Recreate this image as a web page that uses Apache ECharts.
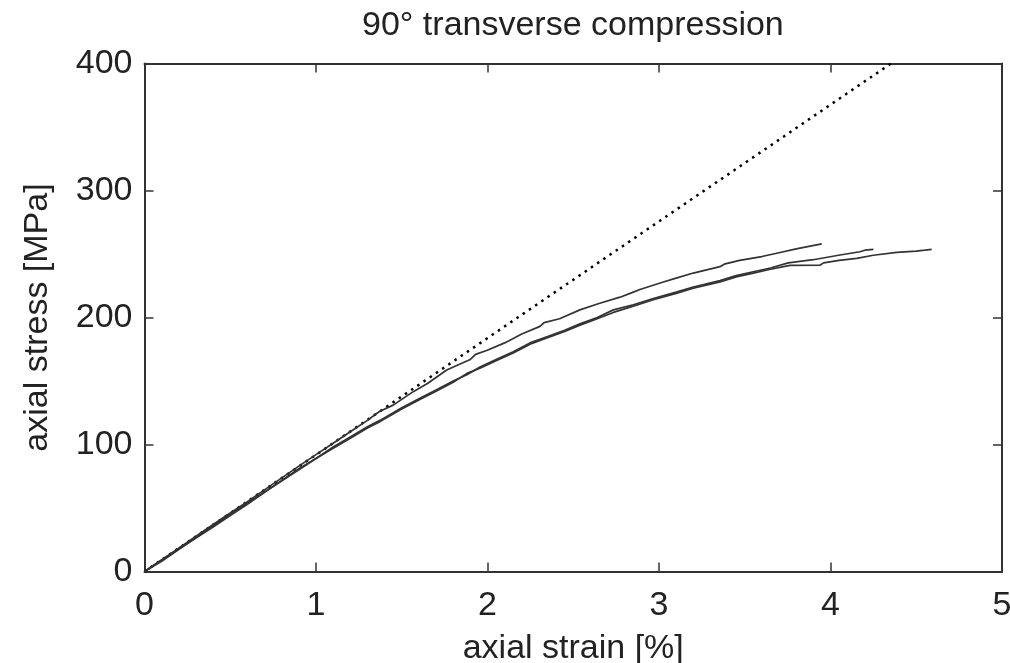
<!DOCTYPE html>
<html>
<head>
<meta charset="utf-8">
<script src="https://cdn.jsdelivr.net/npm/echarts@6/dist/echarts.min.js"></script>
<style>
html,body{margin:0;padding:0;background:#fff;}
#chart{width:1010px;height:663px;}
</style>
</head>
<body>
<div id="chart"></div>
<script>
const titleText = '90° transverse compression';
const xName = 'axial strain [%]';
const yName = 'axial stress [MPa]';
const xTicks = [0, 1, 2, 3, 4, 5];
const yTicks = [0, 100, 200, 300, 400];

const specimenA = [[0,0],[0.1,9],[0.25,23],[0.4,37],[0.5,46],[0.6,55],[0.75,69],[0.9,83],[1.0,92],[1.1,101],[1.2,110],[1.3,119],[1.37,126],[1.45,131],[1.567,141.6],[1.65,148],[1.762,158.7],[1.85,164],[1.9,167],[1.93,171],[1.995,174],[2.1,180],[2.2,187],[2.306,193],[2.33,196],[2.42,199],[2.539,206],[2.65,211],[2.773,216],[2.85,220],[2.889,222],[3.025,228],[3.1,231],[3.2,235],[3.356,240],[3.38,242],[3.47,245],[3.6,248],[3.7,251],[3.8,254],[3.949,258]];
const specimenB = [[0,0],[0.1,9],[0.25,22],[0.4,36],[0.5,45],[0.6,54],[0.75,67],[0.9,81],[1.0,89],[1.1,98],[1.2,106],[1.3,114],[1.373,119],[1.5,129],[1.6,136],[1.7,143],[1.8,150],[1.88,155],[1.956,161],[2.05,167],[2.15,173],[2.248,180],[2.35,185],[2.45,190],[2.539,195],[2.64,200],[2.734,206],[2.85,210],[2.967,215],[3.1,220],[3.2,224],[3.356,229],[3.45,233],[3.55,236],[3.65,239],[3.754,243],[3.9,245.5],[4.055,249.2],[4.172,251.8],[4.2,253],[4.25,253.6]];
const specimenC = [[0,0],[0.1,8],[0.25,22],[0.4,35],[0.5,44],[0.6,53],[0.75,67],[0.9,80],[1.0,89],[1.1,97],[1.2,105],[1.3,113],[1.373,118],[1.5,128],[1.6,135],[1.7,142],[1.8,149],[1.88,156],[1.956,160],[2.05,166],[2.15,172],[2.248,179],[2.35,184],[2.45,189],[2.539,194],[2.64,199],[2.734,204],[2.85,209],[2.967,214],[3.1,219],[3.2,223],[3.356,228],[3.45,232],[3.55,235],[3.65,238],[3.764,241],[3.94,241.3],[3.96,243],[4.05,245],[4.153,246.6],[4.25,249],[4.386,251.3],[4.5,252.3],[4.55,253],[4.59,253.6]];
const linearFit = [[0,0],[4.353,400]];

const FONT = '"Liberation Sans", Arial, Helvetica, sans-serif';
const TXT = '#222';
const AX = '#333';

const chart = echarts.init(document.getElementById('chart'), null, {renderer:'canvas'});

const baseX = {
  type:'value', min:0, max:5, interval:1,
  axisLine:{show:true, onZero:false, lineStyle:{color:AX, width:2}},
  axisTick:{show:true, inside:true, length:9, lineStyle:{color:AX, width:1.5}},
  splitLine:{show:false}
};
const baseY = {
  type:'value', min:0, max:400, interval:100,
  axisLine:{show:true, onZero:false, lineStyle:{color:AX, width:2}},
  axisTick:{show:true, inside:true, length:9, lineStyle:{color:AX, width:1.5}},
  splitLine:{show:false}
};

const curveStyle = {color:'#333', width:1.7};

chart.setOption({
  animation:false,
  backgroundColor:'#fff',
  title:{
    text:titleText, left:357, top:4,
    textStyle:{fontFamily:FONT, fontSize:34, fontWeight:'normal', color:TXT}
  },
  grid:{left:144.5, right:8, top:63.5, bottom:91.5, containLabel:false, outerBoundsMode:'none'},
  xAxis:[
    Object.assign({}, baseX, {
      position:'bottom', name:xName, nameLocation:'middle', nameGap:60,
      nameTextStyle:{fontFamily:FONT, fontSize:34, color:TXT},
      axisLabel:{show:true, margin:17, fontFamily:FONT, fontSize:34, color:TXT,
        formatter:v => xTicks.includes(v) ? String(v) : ''}
    }),
    Object.assign({}, baseX, {position:'top', axisLabel:{show:false}})
  ],
  yAxis:[
    Object.assign({}, baseY, {
      position:'left', name:yName, nameLocation:'middle', nameGap:90,
      nameTextStyle:{fontFamily:FONT, fontSize:34, color:TXT},
      axisLabel:{show:true, margin:12, fontFamily:FONT, fontSize:34, color:TXT,
        formatter:v => yTicks.includes(v) ? String(v) : ''}
    }),
    Object.assign({}, baseY, {position:'right', axisLabel:{show:false}})
  ],
  series:[
    {type:'line', data:linearFit, showSymbol:false, symbol:'none', z:3,
      lineStyle:{color:'#000', width:2.5, type:[2.5,5]}},
    {type:'line', data:specimenA, showSymbol:false, symbol:'none', lineStyle:curveStyle},
    {type:'line', data:specimenB, showSymbol:false, symbol:'none', lineStyle:curveStyle},
    {type:'line', data:specimenC, showSymbol:false, symbol:'none', lineStyle:curveStyle}
  ]
});
</script>
</body>
</html>
